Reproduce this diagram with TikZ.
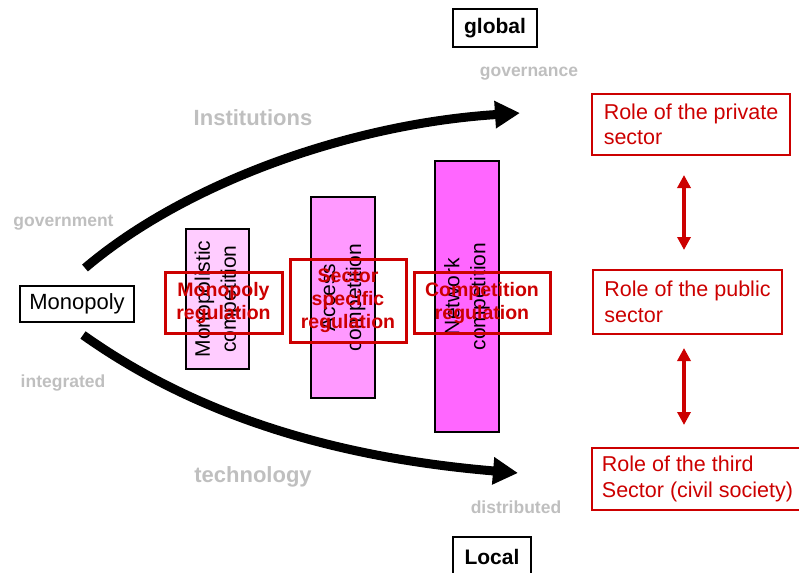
\documentclass[tikz,border=0pt]{standalone}
\usepackage{fontspec}
\setmainfont{Liberation Sans}
\usetikzlibrary{arrows.meta}
\definecolor{rred}{HTML}{CC0000}
\definecolor{lgray}{HTML}{BFBFBF}
\definecolor{pinkA}{HTML}{FFCCFF}
\definecolor{pinkB}{HTML}{FF99FF}
\definecolor{pinkC}{HTML}{FF66FF}
\begin{document}
\begin{tikzpicture}[x=1pt,y=-1pt,
  blackbox/.style={draw=black,line width=1.5pt,inner sep=0pt,font=\fontsize{22}{26}\selectfont},
  graylabel/.style={text=lgray,font=\bfseries\fontsize{17.5}{20}\selectfont,inner sep=0pt},
  graybig/.style={text=lgray,font=\bfseries\fontsize{22}{26}\selectfont,inner sep=0pt},
  bar/.style={draw=black,line width=1.2pt,inner sep=0pt},
  bartext/.style={rotate=90,align=center,font=\fontsize{21}{26}\selectfont,inner sep=0pt},
  regbox/.style={draw=rred,line width=3pt,inner sep=0pt},
  regtext/.style={text=rred,align=center,font=\bfseries\fontsize{19.5}{23}\selectfont,inner sep=0pt},
  rolebox/.style={draw=rred,line width=2pt,inner sep=0pt,text=rred,align=left,font=\fontsize{21.5}{25.5}\selectfont},
  bigarrow/.style={line width=9pt,-{Triangle[length=25pt,width=26pt]}},
  redarrow/.style={draw=rred,line width=3.5pt,{Triangle[length=13pt,width=13pt]}-{Triangle[length=13pt,width=13pt]}}
]
\useasboundingbox (0,0) rectangle (799,572);

% top/bottom boxes
\node[blackbox,minimum width=84pt,minimum height=38pt,font=\bfseries\fontsize{21}{25}\selectfont] (global) at (495,28) {global};
\node[blackbox,minimum width=78pt,minimum height=40pt,font=\bfseries\fontsize{21}{25}\selectfont] (local) at (492,557) {Local};
\node[blackbox,minimum width=114pt,minimum height=36pt] (mono) at (77,304) {Monopoly};

% gray labels
\node[graylabel] (gov) at (529,74) {governance};
\node[graylabel] (govt) at (63.5,223) {government};
\node[graylabel] (integ) at (63,383) {integrated};
\node[graylabel] (distr) at (516,507) {distributed};
\node[graybig] (inst) at (253,118) {Institutions};
\node[graybig] (tech) at (253,477) {technology};

% big arrows
\coordinate (us) at (85,268);
\coordinate (ue) at (520,113);
\coordinate (ls) at (83,335);
\coordinate (le) at (518,473);
\draw[bigarrow] (us) .. controls (185,183) and (350,124) .. (ue);
\draw[bigarrow] (ls) .. controls (200,418) and (340,458) .. (le);

% bars
\node[bar,fill=pinkA,minimum width=63pt,minimum height=140pt] (bar1) at (217.5,299) {};
\node[bar,fill=pinkB,minimum width=64pt,minimum height=201pt] (bar2) at (343,297.5) {};
\node[bar,fill=pinkC,minimum width=64pt,minimum height=271pt] (bar3) at (467,296.5) {};
\node[bartext] (bt1) at (bar1.center) {Monopolistic\\competition};
\node[bartext] (bt2) at (bar2.center) {Access\\competition};
\node[bartext] (bt3) at (bar3.center) {Network\\competition};

% regulation boxes
\node[regbox,minimum width=117pt,minimum height=61pt] (reg1) at (223.5,302.5) {};
\node[regbox,minimum width=116pt,minimum height=83pt] (reg2) at (348,300.5) {};
\node[regbox,minimum width=136pt,minimum height=61pt] (reg3) at (482,302.5) {};
\node[regtext] (rt1) at (reg1.center) {Monopoly\\regulation};
\node[regtext] (rt2) at (reg2.center) {Sector\\specific\\regulation};
\node[regtext] (rt3) at (reg3.center) {Competition\\regulation};

% role boxes
\node[rolebox,minimum width=198pt,minimum height=61pt] (priv) at (691,124.5) {Role of the private\\sector};
\node[rolebox,minimum width=189pt,minimum height=64pt] (pub) at (687.5,302) {Role of the public\\sector};
\node[rolebox,minimum width=211pt,minimum height=62pt] (third) at (697.5,479) {Role of the third\\Sector (civil society)};

\coordinate (a1s) at (684,175);
\coordinate (a1e) at (684,250);
\coordinate (a2s) at (684,348);
\coordinate (a2e) at (684,425);
\draw[redarrow] (a1s) -- (a1e);
\draw[redarrow] (a2s) -- (a2e);
\end{tikzpicture}
\end{document}
